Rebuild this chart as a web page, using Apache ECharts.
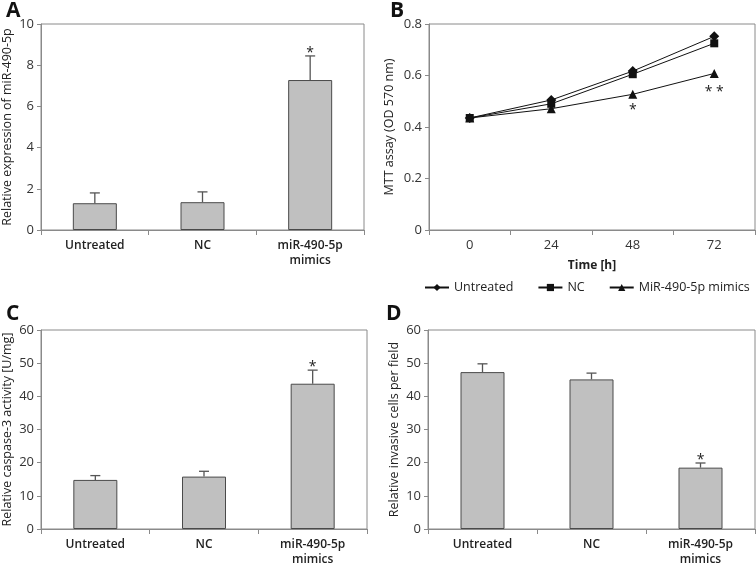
<!DOCTYPE html>
<html><head><meta charset="utf-8">
<script src="https://cdn.jsdelivr.net/npm/echarts@6/dist/echarts.min.js"></script>
<style>html,body{margin:0;padding:0;background:#fff}#c{width:756px;height:567px}</style>
</head><body><div id="c"></div>
<script>
// ---- data ----
const barCategories = ['Untreated', 'NC', 'miR-490-5p\nmimics'];
const aMeans = [1.3, 1.35, 7.28];
const aErrTop = [1.8, 1.85, 8.45];
const aStars = ['', '', '*'];

const bTimes = ['0', '24', '48', '72'];
const bUntreated = [0.435, 0.505, 0.617, 0.752];
const bNC = [0.435, 0.49, 0.605, 0.725];
const bMimics = [0.435, 0.471, 0.527, 0.608];
const bStarLabels = ['', '', '*', '* *'];
const bStarY = [null, null, 0.49, 0.56];

const cMeans = [14.8, 15.8, 43.8];
const cErrTop = [16.1, 17.4, 47.9];
const cStars = ['', '', '*'];

const dMeans = [47.3, 45.1, 18.5];
const dErrTop = [49.8, 47.0, 19.9];
const dStars = ['', '', '*'];

const FONT = '"Open Sans", "Noto Sans", sans-serif';
const AX = '#8a8a8a';
const TXT = '#333';

function grid(left, top, width, height) {
  return {left, top, width, height, show: true, borderColor: AX, borderWidth: 1, backgroundColor: '#fff', containLabel: false};
}
function catAxis(idx, data, bold) {
  return {
    type: 'category', gridIndex: idx, data,
    axisLine: {lineStyle: {color: AX}},
    axisTick: {show: true, length: 5, lineStyle: {color: AX}},
    axisLabel: {color: '#222', fontFamily: FONT, fontSize: 12, fontWeight: bold ? 600 : 'normal', margin: 8, lineHeight: 15}
  };
}
function valAxis(idx, min, max, interval, name, fmt) {
  return {
    type: 'value', gridIndex: idx, min, max, interval,
    name, nameLocation: 'middle', nameGap: 27,
    nameTextStyle: {color: '#222', fontFamily: FONT, fontSize: 12.5},
    axisLine: {show: true, lineStyle: {color: AX}},
    axisTick: {show: true, length: 4, lineStyle: {color: AX}},
    splitLine: {show: false},
    axisLabel: {color: TXT, fontFamily: FONT, fontSize: 13, margin: 7, formatter: fmt}
  };
}
function barSeries(idx, means) {
  return {
    type: 'bar', xAxisIndex: idx, yAxisIndex: idx, data: means, barWidth: 44,
    itemStyle: {color: '#c0c0c0', borderColor: '#4a4a4a', borderWidth: 1},
    z: 2
  };
}
function errSeries(idx, means, tops, stars) {
  const data = means.map((m, i) => [i, m, tops[i], stars[i]]);
  return {
    type: 'custom', xAxisIndex: idx, yAxisIndex: idx, data, z: 5,
    renderItem: function (params, api) {
      const i = api.value(0);
      const p0 = api.coord([i, api.value(1)]);
      const p1 = api.coord([i, api.value(2)]);
      const star = data[params.dataIndex][3];
      const st = {stroke: '#555', lineWidth: 1.3};
      return {
        type: 'group', children: [
          {type: 'line', shape: {x1: p0[0], y1: p0[1], x2: p1[0], y2: p1[1]}, style: st},
          {type: 'line', shape: {x1: p1[0] - 5, y1: p1[1], x2: p1[0] + 5, y2: p1[1]}, style: st},
          {type: 'text', style: {text: star, x: p1[0], y: p1[1] + 4, align: 'center', verticalAlign: 'bottom', fill: '#222', font: '14px ' + FONT}}
        ]
      };
    }
  };
}

const gA = grid(41, 24, 323, 206);
const gB = grid(429, 24, 326, 206);
const gC = grid(41, 330, 326, 207);
const gD = grid(428, 330, 327, 207);

const lineCommon = {type: 'line', xAxisIndex: 1, yAxisIndex: 1, lineStyle: {color: '#111', width: 1}, itemStyle: {color: '#111'}, z: 4};

const bStarData = bStarY.map((y, i) => [i, y, bStarLabels[i]]).filter(d => d[1] !== null);

const option = {
  animation: false,
  backgroundColor: '#fff',
  textStyle: {fontFamily: FONT},
  graphic: [
    {type: 'text', left: 6, top: 1, style: {text: 'A', font: 'bold 21px ' + FONT, fill: '#111'}},
    {type: 'text', left: 390, top: 1, style: {text: 'B', font: 'bold 21px ' + FONT, fill: '#111'}},
    {type: 'text', left: 6, top: 304, style: {text: 'C', font: 'bold 21px ' + FONT, fill: '#111'}},
    {type: 'text', left: 386, top: 304, style: {text: 'D', font: 'bold 21px ' + FONT, fill: '#111'}}
  ],
  grid: [gA, gB, gC, gD],
  xAxis: [
    catAxis(0, barCategories, true),
    Object.assign(catAxis(1, bTimes, false), {
      name: 'Time [h]', nameLocation: 'middle', nameGap: 30,
      nameTextStyle: {color: '#222', fontFamily: FONT, fontSize: 12, fontWeight: 'bold'},
      axisLabel: {color: TXT, fontFamily: FONT, fontSize: 13, margin: 9}
    }),
    catAxis(2, barCategories, true),
    catAxis(3, barCategories, true)
  ],
  yAxis: [
    valAxis(0, 0, 10, 2, 'Relative expression of miR-490-5p'),
    Object.assign(valAxis(1, 0, 0.8, 0.2, 'MTT assay (OD 570 nm)', v => (v === 0 ? '0' : String(+v.toFixed(1)))), {nameGap: 33}),
    valAxis(2, 0, 60, 10, 'Relative caspase-3 activity [U/mg]'),
    valAxis(3, 0, 60, 10, 'Relative invasive cells per field')
  ],
  legend: {
    left: 419, top: 276, itemGap: 24, itemWidth: 24, itemHeight: 9,
    textStyle: {color: '#222', fontFamily: FONT, fontSize: 12.5},
    data: ['Untreated', 'NC', 'MiR-490-5p mimics']
  },
  series: [
    barSeries(0, aMeans), errSeries(0, aMeans, aErrTop, aStars),
    Object.assign({}, lineCommon, {name: 'Untreated', data: bUntreated, symbol: 'diamond', symbolSize: 10}),
    Object.assign({}, lineCommon, {name: 'NC', data: bNC, symbol: 'rect', symbolSize: 8}),
    Object.assign({}, lineCommon, {name: 'MiR-490-5p mimics', data: bMimics, symbol: 'triangle', symbolSize: 9}),
    {
      type: 'custom', xAxisIndex: 1, yAxisIndex: 1, z: 5, silent: true,
      data: bStarData,
      renderItem: function (params, api) {
        const p = api.coord([api.value(0), api.value(1)]);
        return {type: 'text', style: {text: bStarData[params.dataIndex][2], x: p[0], y: p[1] + 6, align: 'center', verticalAlign: 'middle', fill: '#222', font: '14px ' + FONT}};
      }
    },
    barSeries(2, cMeans), errSeries(2, cMeans, cErrTop, cStars),
    barSeries(3, dMeans), errSeries(3, dMeans, dErrTop, dStars)
  ]
};
echarts.init(document.getElementById('c')).setOption(option);
</script></body></html>
